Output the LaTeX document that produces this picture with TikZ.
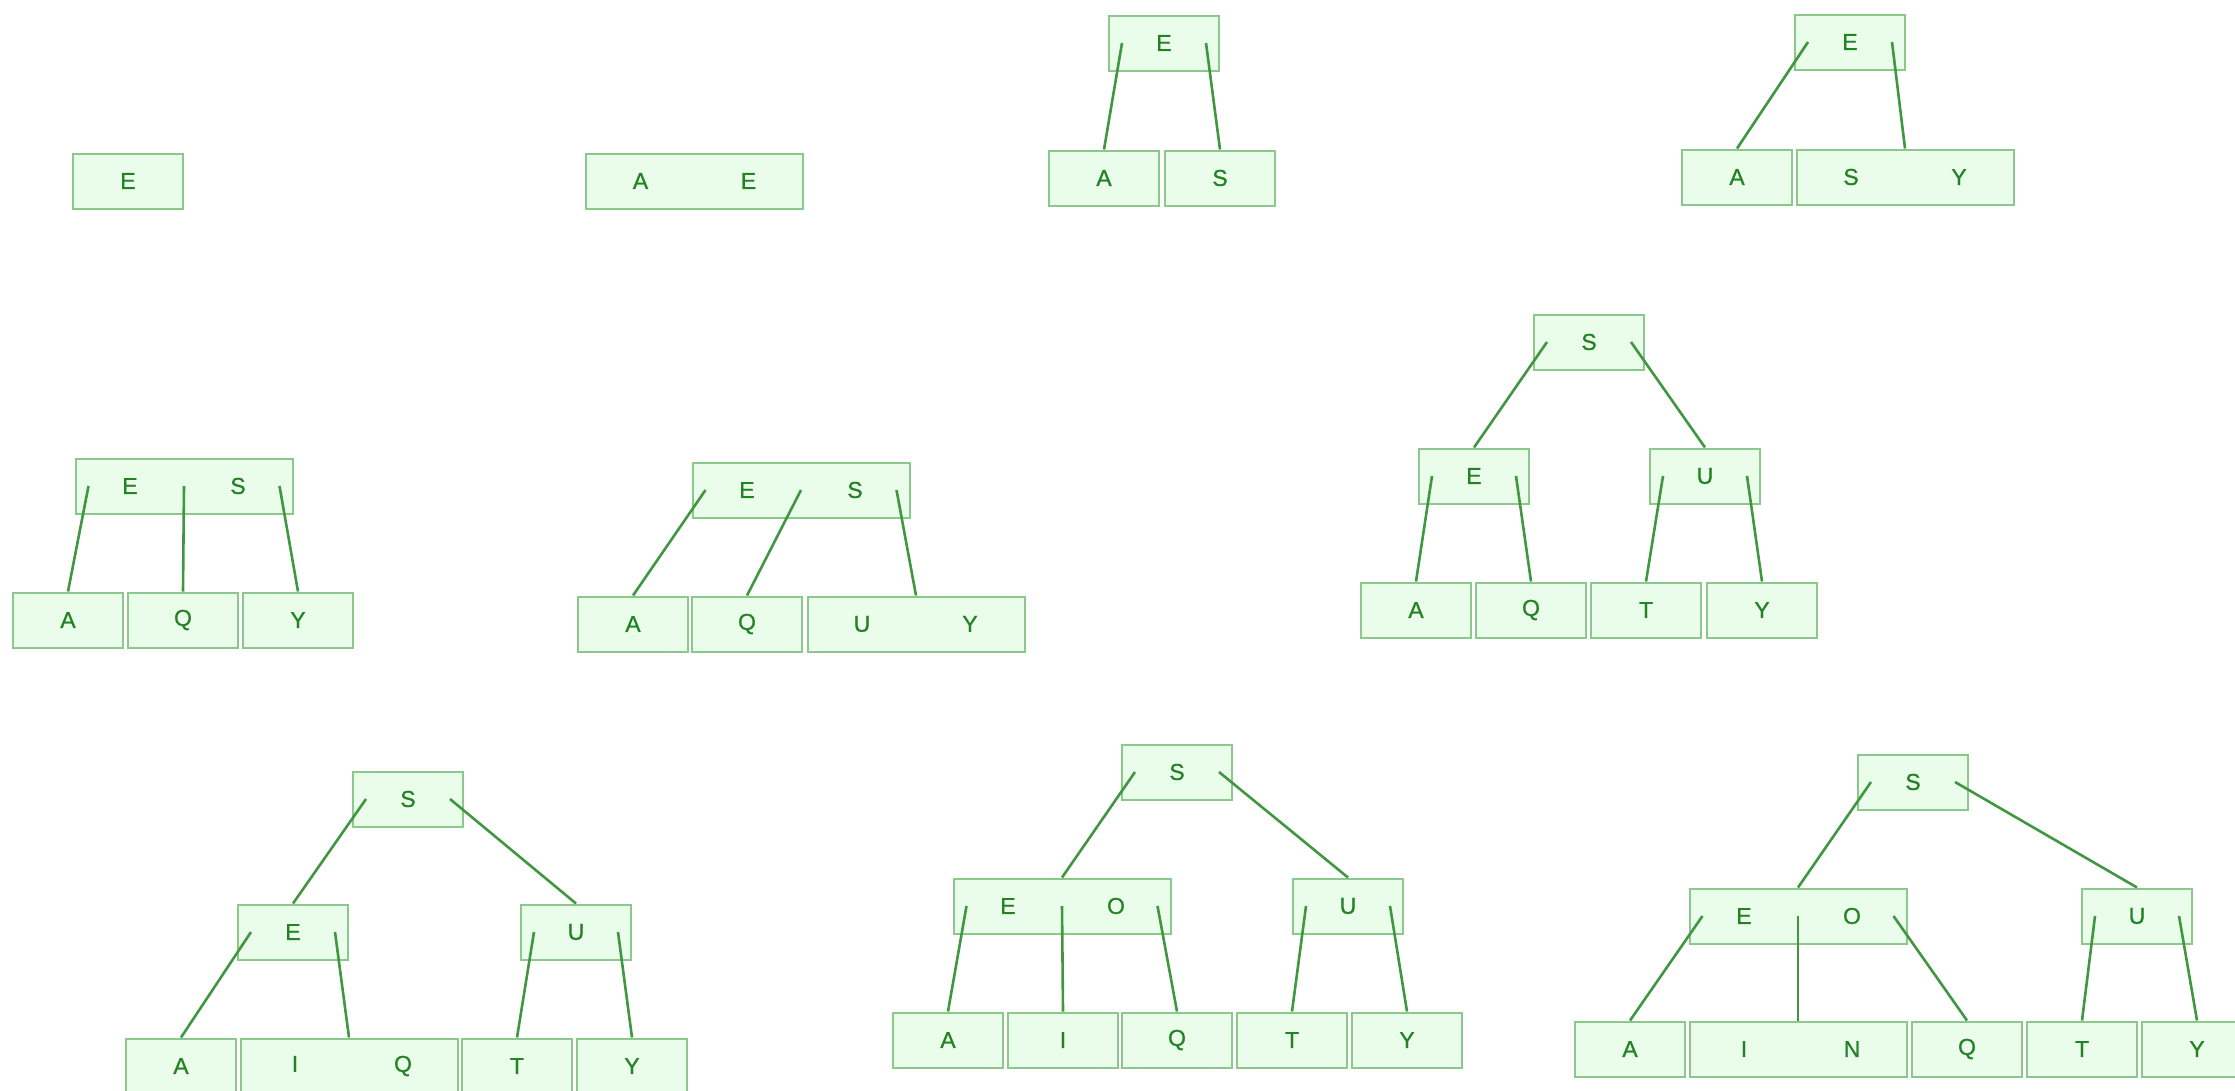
\documentclass[tikz,border=0pt]{standalone}
\usepackage{fontspec}
\setmainfont{Liberation Sans}
\newfontfamily\keyfont[FakeBold=0.8]{Liberation Sans}
\definecolor{boxfill}{RGB}{234,252,234}
\definecolor{boxline}{RGB}{140,200,140}
\definecolor{keytext}{RGB}{35,130,35}
\definecolor{linkcol}{RGB}{65,150,65}
\tikzset{
  bnode/.style={draw=boxline, fill=boxfill, line width=2pt, rectangle,
    minimum width=110pt, minimum height=55pt, inner sep=0pt,
    text=keytext, font=\keyfont\fontsize{23}{23}\selectfont},
  wnode/.style={bnode, minimum width=217pt},
  link/.style={draw=linkcol, line width=2.6pt},
}
\newcommand{\twokeys}[2]{\makebox[108pt]{#1}\makebox[108pt]{#2}}
\begin{document}
\begin{tikzpicture}[x=1pt,y=-1pt]
\useasboundingbox (0,0) rectangle (2235,1090);
% Tree 1
\node[bnode] (t1e) at (128,181) {E};
% Tree 2
\node[wnode] (t2ae) at (694.5,181) {\twokeys{A}{E}};
% Tree 3
\node[bnode] (t3r) at (1164,43) {E};
\node[bnode] (t3a) at (1104,178) {A};
\node[bnode] (t3s) at (1220,178) {S};
\draw[link] ([xshift=14pt]t3r.west) -- (t3a.north);
\draw[link] ([xshift=-14pt]t3r.east) -- (t3s.north);
% Tree 4
\node[bnode] (t4r) at (1850,42) {E};
\node[bnode] (t4a) at (1737,177) {A};
\node[wnode] (t4sy) at (1905,177) {\twokeys{S}{Y}};
\draw[link] ([xshift=14pt]t4r.west) -- (t4a.north);
\draw[link] ([xshift=-14pt]t4r.east) -- (t4sy.north);
% Tree 5
\node[wnode] (t5r) at (184,486) {\twokeys{E}{S}};
\node[bnode] (t5a) at (68,620) {A};
\node[bnode] (t5q) at (183,620) {Q};
\node[bnode] (t5y) at (298,620) {Y};
\draw[link] ([xshift=14pt]t5r.west) -- (t5a.north);
\draw[link] (t5r.center) -- (t5q.north);
\draw[link] ([xshift=-14pt]t5r.east) -- (t5y.north);
% Tree 6
\node[wnode] (t6r) at (801,490) {\twokeys{E}{S}};
\node[bnode] (t6a) at (633,624) {A};
\node[bnode] (t6q) at (747,624) {Q};
\node[wnode] (t6uy) at (916,624) {\twokeys{U}{Y}};
\draw[link] ([xshift=14pt]t6r.west) -- (t6a.north);
\draw[link] (t6r.center) -- (t6q.north);
\draw[link] ([xshift=-14pt]t6r.east) -- (t6uy.north);
% Tree 7
\node[bnode] (t7s) at (1589,342) {S};
\node[bnode] (t7e) at (1474,476) {E};
\node[bnode] (t7u) at (1705,476) {U};
\node[bnode] (t7a) at (1416,610) {A};
\node[bnode] (t7q) at (1531,610) {Q};
\node[bnode] (t7t) at (1646,610) {T};
\node[bnode] (t7y) at (1762,610) {Y};
\draw[link] ([xshift=14pt]t7s.west) -- (t7e.north);
\draw[link] ([xshift=-14pt]t7s.east) -- (t7u.north);
\draw[link] ([xshift=14pt]t7e.west) -- (t7a.north);
\draw[link] ([xshift=-14pt]t7e.east) -- (t7q.north);
\draw[link] ([xshift=14pt]t7u.west) -- (t7t.north);
\draw[link] ([xshift=-14pt]t7u.east) -- (t7y.north);
% Tree 8
\node[bnode] (t8s) at (408,799) {S};
\node[bnode] (t8e) at (293,932) {E};
\node[bnode] (t8u) at (576,932) {U};
\node[bnode] (t8a) at (181,1066) {A};
\node[wnode] (t8iq) at (349,1066) {\twokeys{I}{Q}};
\node[bnode] (t8t) at (517,1066) {T};
\node[bnode] (t8y) at (632,1066) {Y};
\draw[link] ([xshift=14pt]t8s.west) -- (t8e.north);
\draw[link] ([xshift=-14pt]t8s.east) -- (t8u.north);
\draw[link] ([xshift=14pt]t8e.west) -- (t8a.north);
\draw[link] ([xshift=-14pt]t8e.east) -- (t8iq.north);
\draw[link] ([xshift=14pt]t8u.west) -- (t8t.north);
\draw[link] ([xshift=-14pt]t8u.east) -- (t8y.north);
% Tree 9
\node[bnode] (t9s) at (1177,772) {S};
\node[wnode] (t9eo) at (1062,906) {\twokeys{E}{O}};
\node[bnode] (t9u) at (1348,906) {U};
\node[bnode] (t9a) at (948,1040) {A};
\node[bnode] (t9i) at (1063,1040) {I};
\node[bnode] (t9q) at (1177,1040) {Q};
\node[bnode] (t9t) at (1292,1040) {T};
\node[bnode] (t9y) at (1407,1040) {Y};
\draw[link] ([xshift=14pt]t9s.west) -- (t9eo.north);
\draw[link] ([xshift=-14pt]t9s.east) -- (t9u.north);
\draw[link] ([xshift=14pt]t9eo.west) -- (t9a.north);
\draw[link] (t9eo.center) -- (t9i.north);
\draw[link] ([xshift=-14pt]t9eo.east) -- (t9q.north);
\draw[link] ([xshift=14pt]t9u.west) -- (t9t.north);
\draw[link] ([xshift=-14pt]t9u.east) -- (t9y.north);
% Tree 10
\node[bnode] (t10s) at (1913,782) {S};
\node[wnode] (t10eo) at (1798,916) {\twokeys{E}{O}};
\node[bnode] (t10u) at (2137,916) {U};
\node[bnode] (t10a) at (1630,1049) {A};
\node[wnode] (t10in) at (1798,1049) {\twokeys{I}{N}};
\node[bnode] (t10q) at (1967,1049) {Q};
\node[bnode] (t10t) at (2082,1049) {T};
\node[bnode] (t10y) at (2197,1049) {Y};
\draw[link] ([xshift=14pt]t10s.west) -- (t10eo.north);
\draw[link] ([xshift=-14pt]t10s.east) -- (t10u.north);
\draw[link] ([xshift=14pt]t10eo.west) -- (t10a.north);
\draw[link] (t10eo.center) -- (t10in.north);
\draw[link] ([xshift=-14pt]t10eo.east) -- (t10q.north);
\draw[link] ([xshift=14pt]t10u.west) -- (t10t.north);
\draw[link] ([xshift=-14pt]t10u.east) -- (t10y.north);
\end{tikzpicture}
\end{document}
